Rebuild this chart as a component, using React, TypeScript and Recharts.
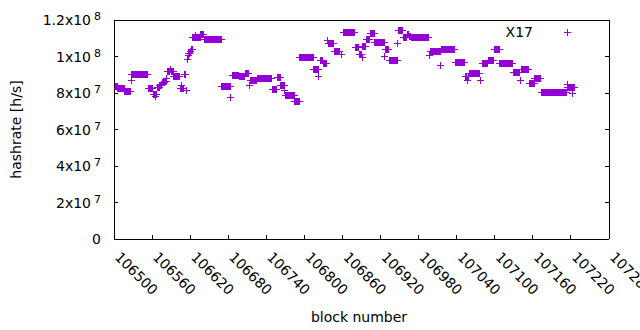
import React from 'react';
import { ScatterChart, Scatter, XAxis, YAxis, Legend } from 'recharts';

// Runs of consecutive blocks sharing (almost) the same hashrate.
const runStart = [
  106502, 106506, 106517, 106527, 106528, 106554, 106562, 106565, 106566, 106568,
  106572, 106576, 106580, 106583, 106584, 106589, 106590, 106594, 106604, 106607,
  106608, 106611, 106614, 106616, 106617, 106618, 106620, 106622, 106624, 106628,
  106629, 106637, 106642, 106670, 106684, 106687, 106697, 106707, 106713, 106715,
  106726, 106749, 106757, 106763, 106769, 106770, 106785, 106793, 106815, 106823,
  106825, 106830, 106837, 106838, 106848, 106858, 106861, 106880, 106887, 106891,
  106892, 106898, 106904, 106911, 106927, 106928, 106934, 106947, 106948, 106956,
  106962, 106965, 106968, 106997, 106998, 107015, 107016, 107038, 107054, 107057,
  107058, 107060, 107077, 107080, 107090, 107099, 107108, 107129, 107141, 107142,
  107154, 107163, 107173, 107214, 107215, 107223, 107224,
];
const runEnd = [
  106505, 106516, 106526, 106527, 106553, 106561, 106564, 106565, 106567, 106571,
  106575, 106579, 106582, 106583, 106588, 106589, 106593, 106603, 106606, 106607,
  106610, 106613, 106614, 106616, 106617, 106619, 106621, 106623, 106627, 106628,
  106636, 106641, 106669, 106683, 106684, 106696, 106706, 106712, 106714, 106725,
  106748, 106756, 106762, 106768, 106769, 106784, 106792, 106814, 106822, 106823,
  106829, 106835, 106837, 106846, 106856, 106858, 106879, 106886, 106890, 106891,
  106897, 106903, 106910, 106926, 106927, 106933, 106946, 106947, 106955, 106961,
  106964, 106967, 106996, 106997, 107014, 107015, 107036, 107053, 107056, 107057,
  107059, 107076, 107077, 107089, 107098, 107107, 107128, 107139, 107141, 107153,
  107162, 107172, 107213, 107214, 107222, 107223, 107225,
];
// hashrate in units of 10^6 h/s
const runRate = [
  83.5, 82.2, 81.0, 86.7, 90.4, 82.2, 79.2, 78.0, 79.2, 83.2,
  84.3, 85.5, 86.5, 87.7, 91.7, 93.1, 91.7, 89.2, 82.4, 84.0,
  82.4, 90.4, 81.3, 98.6, 100.4, 101.5, 102.7, 104.0, 110.6, 111.3,
  110.6, 112.3, 109.4, 83.7, 77.6, 89.7, 88.9, 90.8, 84.1, 87.1,
  87.8, 81.8, 88.3, 84.3, 81.3, 78.7, 75.4, 99.5, 92.7, 88.9,
  97.7, 96.0, 108.6, 106.9, 102.6, 101.3, 112.9, 104.7, 101.3, 99.3,
  105.7, 109.3, 112.6, 107.9, 100.2, 103.8, 97.7, 107.1, 114.4, 110.2,
  112.3, 111.0, 110.5, 100.5, 102.9, 95.3, 104.0, 96.9, 89.3, 87.1,
  89.3, 90.9, 86.6, 95.9, 97.8, 103.7, 96.0, 91.3, 86.6, 93.1,
  85.3, 87.7, 80.2, 84.7, 82.9, 79.8, 82.9,
];

const xTicks = [
  106500, 106560, 106620, 106680, 106740, 106800, 106860, 106920,
  106980, 107040, 107100, 107160, 107220, 107280,
];
const yTicks = [0, 20000000, 40000000, 60000000, 80000000, 100000000, 120000000];
const yTickMantissa = ['0', '2x10', '4x10', '6x10', '8x10', '1x10', '1.2x10'];
const yTickExponent = ['', '7', '7', '7', '7', '8', '8'];

const seriesName = 'X17';
const xTitle = 'block number';
const yTitle = 'hashrate [h/s]';

const data: { block: number; rate: number }[] = [];
runStart.forEach((s, i) => {
  for (let b = s; b <= runEnd[i]; b++) data.push({ block: b, rate: runRate[i] * 1e6 });
});

const PURPLE = '#9400d3';
const FONT = "'DejaVu Sans', sans-serif";
const FS = 14;

const plusPath = (cx: number, cy: number) =>
  `M${cx - 3.5},${cy}H${cx + 3.5}M${cx},${cy - 3.5}V${cy + 3.5}`;

const PlusShape = (props: any) => {
  const { cx, cy } = props;
  if (cx == null || cy == null) return null;
  return <path d={plusPath(cx, cy)} stroke={PURPLE} strokeWidth={1} fill="none" shapeRendering="crispEdges" />;
};

const BottomTick = (props: any) => {
  const { x, y, payload } = props;
  const ty = y + 19;
  return (
    <g>
      <line x1={x} y1={y} x2={x} y2={y - 4} stroke="#000" shapeRendering="crispEdges" />
      <text x={x} y={ty} transform={`rotate(45 ${x} ${ty})`} fontFamily={FONT} fontSize={FS} fill="#000">
        {payload.value}
      </text>
    </g>
  );
};

const TopTick = (props: any) => {
  const { x, y } = props;
  return <line x1={x} y1={y} x2={x} y2={y + 4} stroke="#000" shapeRendering="crispEdges" />;
};

const LeftTick = (props: any) => {
  const { x, y, payload } = props;
  const i = yTicks.indexOf(payload.value);
  const exp = yTickExponent[i];
  return (
    <g>
      <line x1={x} y1={y} x2={x + 4} y2={y} stroke="#000" shapeRendering="crispEdges" />
      <text x={x - 13} y={y + 5} textAnchor="end" fontFamily={FONT} fontSize={FS} fill="#000">
        {yTickMantissa[i]}
        {exp ? (
          <tspan dx={3} dy={-5} fontSize={11}>
            {exp}
          </tspan>
        ) : null}
      </text>
    </g>
  );
};

const RightTick = (props: any) => {
  const { x, y } = props;
  return <line x1={x} y1={y} x2={x - 4} y2={y} stroke="#000" shapeRendering="crispEdges" />;
};

const LegendBox = () => (
  <svg width={640} height={330} style={{ display: 'block' }}>
    <text x={533} y={37} textAnchor="end" fontFamily={FONT} fontSize={FS} fill="#000">
      {seriesName}
    </text>
    <path d={plusPath(567.5, 32.5)} stroke={PURPLE} strokeWidth={1} fill="none" shapeRendering="crispEdges" />
  </svg>
);

const axisLineStyle = { stroke: '#000', strokeWidth: 1, shapeRendering: 'crispEdges' } as any;

export default function App() {
  return (
    <div style={{ position: 'absolute', left: 0, top: 0, width: 640, height: 330, background: '#fff' }}>
      <ScatterChart width={640} height={330} margin={{ top: 0, right: 0, bottom: 0, left: 0 }}>
        <XAxis
          dataKey="block"
          type="number"
          domain={[106500, 107280]}
          ticks={xTicks}
          interval={0}
          height={91}
          tickSize={0}
          tickMargin={0}
          tickLine={false}
          axisLine={axisLineStyle}
          tick={<BottomTick />}
          allowDataOverflow
          label={{
            content: () => (
              <text x={359} y={322} textAnchor="middle" fontFamily={FONT} fontSize={FS} fill="#000">
                {xTitle}
              </text>
            ),
          }}
        />
        <XAxis
          xAxisId="top"
          orientation="top"
          type="number"
          domain={[106500, 107280]}
          ticks={xTicks}
          interval={0}
          height={20}
          tickSize={0}
          tickMargin={0}
          tickLine={false}
          axisLine={axisLineStyle}
          tick={<TopTick />}
          allowDataOverflow
        />
        <YAxis
          dataKey="rate"
          type="number"
          domain={[0, 120000000]}
          ticks={yTicks}
          interval={0}
          width={114}
          tickSize={0}
          tickMargin={0}
          tickLine={false}
          axisLine={axisLineStyle}
          tick={<LeftTick />}
          allowDataOverflow
          label={{
            content: () => (
              <text
                x={20.5}
                y={129.5}
                transform="rotate(-90 20.5 129.5)"
                textAnchor="middle"
                fontFamily={FONT}
                fontSize={FS}
                fill="#000"
              >
                {yTitle}
              </text>
            ),
          }}
        />
        <YAxis
          yAxisId="right"
          orientation="right"
          type="number"
          domain={[0, 120000000]}
          ticks={yTicks}
          interval={0}
          width={31}
          tickSize={0}
          tickMargin={0}
          tickLine={false}
          axisLine={axisLineStyle}
          tick={<RightTick />}
          allowDataOverflow
        />
        <Legend
          layout="horizontal"
          verticalAlign="middle"
          align="center"
          content={<LegendBox />}
          wrapperStyle={{ position: 'absolute', left: 0, top: 0, width: 640, height: 330, pointerEvents: 'none' }}
        />
        <Scatter name={seriesName} data={data} dataKey="rate" shape={PlusShape} isAnimationActive={false} />
      </ScatterChart>
    </div>
  );
}
